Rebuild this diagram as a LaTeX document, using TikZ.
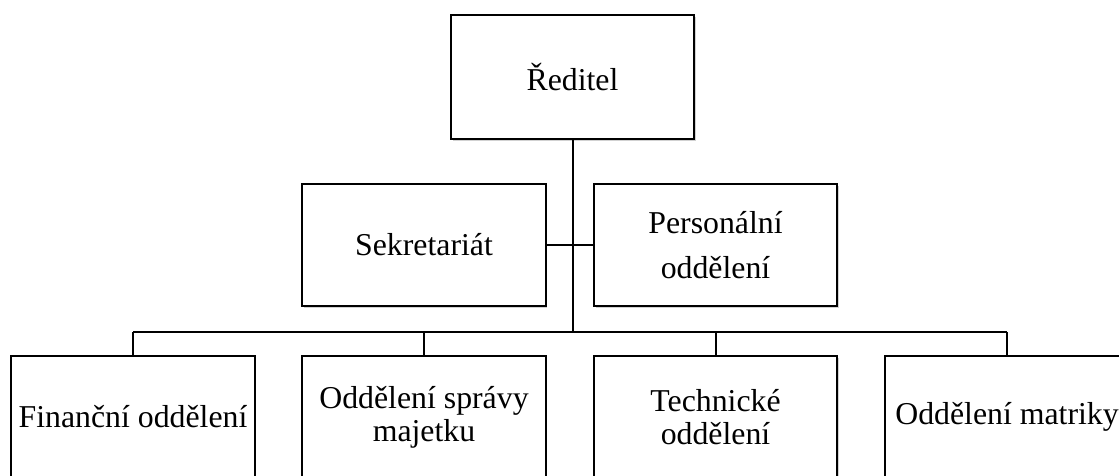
\documentclass[tikz,border=0pt]{standalone}
\usepackage{fontspec}
\setmainfont{Liberation Serif}
\usetikzlibrary{shadows}
\begin{document}
\begin{tikzpicture}[x=0.75pt,y=-0.75pt,
  orgbox/.style={draw=black, line width=1.5pt, fill=white,
    minimum width=182.5pt, minimum height=91.5pt, inner sep=0pt,
    align=center, font=\fontsize{23.85}{25}\selectfont,
    drop shadow={shadow xshift=1.3pt, shadow yshift=-1.5pt, opacity=0.18, fill=black}},
  widelines/.style={font=\fontsize{23.85}{33.75}\selectfont},
  link/.style={line width=1.5pt, draw=black}]
\useasboundingbox (0,0) rectangle (1119,475);
\clip (0,0) rectangle (1119,475);

% nodes
\node[orgbox, minimum height=93pt] (reditel) at (572.5,77) {Ředitel};
\node[orgbox] (sekr) at (424,245) {Sekretariát};
\node[orgbox, widelines] (pers) at (715.5,245) {Personální\\oddělení};
\node[orgbox] (fin) at (133,417) {Finanční oddělení};
\node[orgbox] (sprava) at (424,417) {Oddělení správy\\majetku};
\node[orgbox] (tech) at (715.5,417) {Technické\\oddělení};
\node[orgbox] (matr) at (1007,417) {Oddělení matriky};

% bus coordinates
\coordinate (bus) at (572.5,332);
\coordinate (busL) at (133,332);
\coordinate (busR) at (1007,332);

% connectors
\draw[link] (reditel.south) -- (bus);
\draw[link] (sekr.east) -- (pers.west);
\draw[link] (busL) -- (busR);
\draw[link] (fin.north) -- (fin.north |- bus);
\draw[link] (sprava.north) -- (sprava.north |- bus);
\draw[link] (tech.north) -- (tech.north |- bus);
\draw[link] (matr.north) -- (matr.north |- bus);
\end{tikzpicture}
\end{document}
